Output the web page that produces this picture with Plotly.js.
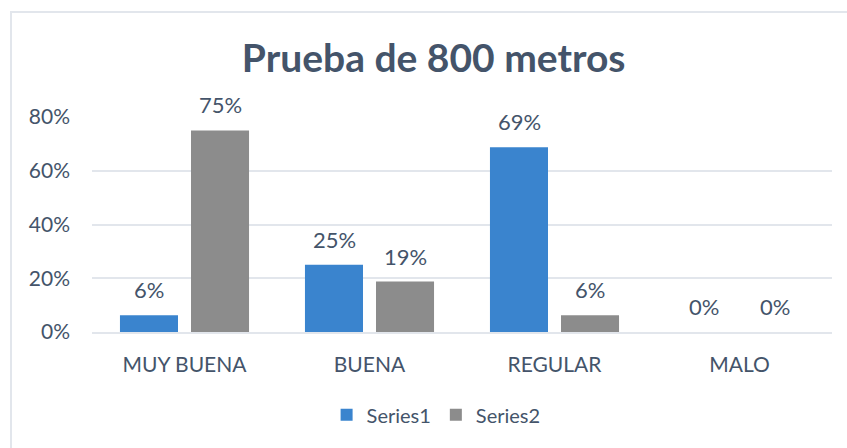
<!DOCTYPE html>
<html>
<head>
<meta charset="utf-8">
<script src="https://cdn.plot.ly/plotly-3.0.1.min.js"></script>
<style>
html,body{margin:0;padding:0;background:#fff;}
#frame{position:absolute;left:10px;top:11px;width:837px;height:437px;border-left:2px solid #E2E6EC;border-top:2px solid #E2E6EC;box-sizing:border-box;pointer-events:none;z-index:5;}
#chart{position:absolute;left:0;top:0;width:847px;height:448px;}
</style>
</head>
<body>
<div id="chart"></div>
<div id="frame"></div>
<script>
const categories = ["MUY BUENA", "BUENA", "REGULAR", "MALO"];
const series1 = [0.0625, 0.25, 0.6875, 0];
const series2 = [0.75, 0.1875, 0.0625, 0];
const series1Labels = ["6%", "25%", "69%", "0%"];
const series2Labels = ["75%", "19%", "6%", "0%"];
const tickVals = [0, 0.2, 0.4, 0.6, 0.8];
const tickLabels = ["0%", "20%", "40%", "60%", "80%"];

const textColor = "#44546A";
const fontFam = "Lato, 'Noto Sans', sans-serif";

const traces = [
  {type: "bar", name: "Series1", x: categories, y: series1,
   marker: {color: "#3A84CE"}, hoverinfo: "none"},
  {type: "bar", name: "Series2", x: categories, y: series2,
   marker: {color: "#8C8C8C"}, hoverinfo: "none"}
];

const annotations = [];
function addLabels(vals, labels, shift) {
  categories.forEach((c, i) => {
    annotations.push({x: c, y: vals[i], xref: "x", yref: "y", text: labels[i],
      showarrow: false, xanchor: "center", yanchor: "bottom", xshift: shift, yshift: 10,
      font: {family: fontFam, size: 22, color: textColor}});
  });
}
addLabels(series1, series1Labels, -35.5);
addLabels(series2, series2Labels, 35.5);

const layout = {
  width: 847, height: 448,
  margin: {l: 92, r: 15, t: 117, b: 116},
  paper_bgcolor: "#ffffff", plot_bgcolor: "#ffffff",
  font: {family: fontFam, color: textColor, size: 20},
  title: {text: "<b>Prueba de 800 metros</b>", x: 0.512, xanchor: "center", y: 0.87, yanchor: "middle",
          font: {family: fontFam, size: 39, color: textColor}},
  barmode: "group", bargap: 0.232, bargroupgap: 0.183,
  xaxis: {showgrid: false, showline: true, linecolor: "#E2E6EC", linewidth: 2, ticks: "",
          tickfont: {family: fontFam, size: 21, color: textColor}, ticklabelstandoff: 13},
  yaxis: {range: [0, 0.8], tickvals: tickVals, ticktext: tickLabels, showgrid: true,
          gridcolor: "#E2E6EC", gridwidth: 2, zeroline: false, showline: false,
          tickfont: {family: fontFam, size: 21, color: textColor}, ticklabelstandoff: 21},
  annotations: annotations,
  showlegend: true,
  legend: {orientation: "h", x: 0.465, xanchor: "center", y: -0.385, yanchor: "middle",
           font: {family: fontFam, size: 20, color: textColor}, itemwidth: 30, traceorder: "normal"}
};

Plotly.newPlot("chart", traces, layout, {staticPlot: true, displayModeBar: false});
</script>
</body>
</html>
